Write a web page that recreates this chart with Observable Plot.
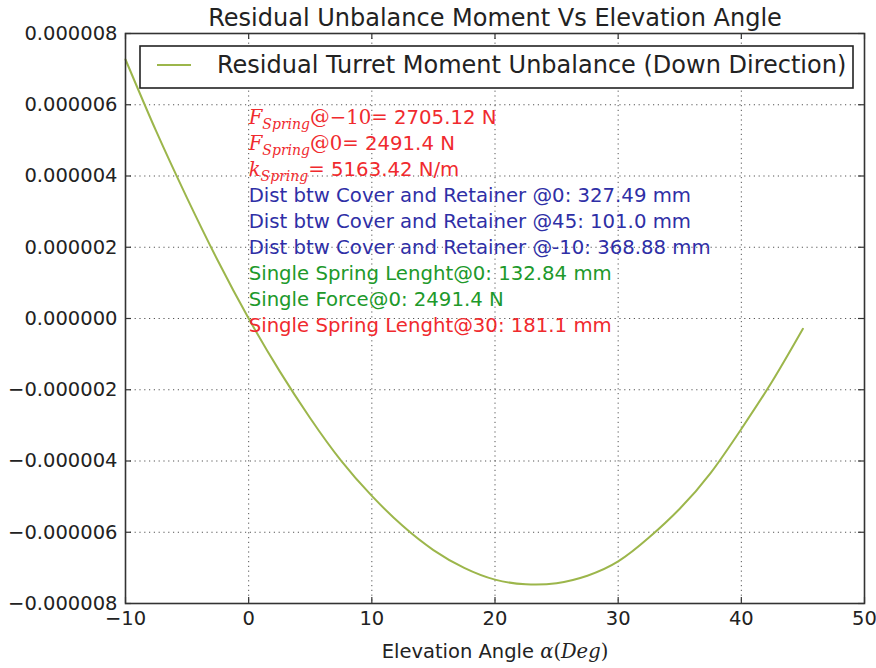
<!DOCTYPE html>
<html><head><meta charset="utf-8">
<script src="https://cdn.jsdelivr.net/npm/d3@7"></script>
<script src="https://cdn.jsdelivr.net/npm/@observablehq/plot@0.6"></script>
<style>body{margin:0;background:#fff}</style>
</head><body><div id="chart"></div>
<script>
// ---- data ----
const angles = [-10, -7.5, -5, -2.5, 0, 2.5, 5, 7.5, 10, 12.5, 15, 17.5, 20, 22.5, 25, 27.5, 30, 32.5, 35, 37.5, 40, 42.5, 45];
const moments = [7.27e-6, 5.25e-6, 3.38e-6, 1.62e-6, 0.0, -1.47e-6, -2.80e-6, -3.99e-6, -4.98e-6, -5.82e-6, -6.50e-6, -7.00e-6, -7.33e-6, -7.46e-6, -7.43e-6, -7.22e-6, -6.82e-6, -6.15e-6, -5.34e-6, -4.34e-6, -3.10e-6, -1.77e-6, -0.29e-6];
const xTicks = [-10, 0, 10, 20, 30, 40, 50];
const yTicks = [-8e-6, -6e-6, -4e-6, -2e-6, 0, 2e-6, 4e-6, 6e-6, 8e-6];
const titleText = "Residual Unbalance Moment Vs Elevation Angle";
const xLabelText = "Elevation Angle α(Deg)";
const legendLabel = "Residual Turret Moment Unbalance (Down Direction)";
const annotationTexts = [
  "F_Spring@−10 = 2705.12 N",
  "F_Spring@0 = 2491.4 N",
  "k_Spring = 5163.42 N/m",
  "Dist btw Cover and Retainer @0: 327.49 mm",
  "Dist btw Cover and Retainer @45: 101.0 mm",
  "Dist btw Cover and Retainer @-10: 368.88 mm",
  "Single Spring Lenght@0: 132.84 mm",
  "Single Force@0: 2491.4 N",
  "Single Spring Lenght@30: 181.1 mm"
];
const annotationColors = ["#f02a2e", "#f02a2e", "#f02a2e", "#2f2fa6", "#2f2fa6", "#2f2fa6", "#20992a", "#20992a", "#f02a2e"];

// ---- layout ----
const W = 876, H = 668, mL = 125, mR = 12, mT = 33, mB = 65;
const pw = W - mL - mR, ph = H - mT - mB;
const lineColor = "#9cb64b";
const tickFont = 19.5;
const annFont = 19.7;

const data = angles.map((a, i) => ({angle: a, moment: moments[i]}));
const annotations = annotationTexts.map((t, i) => ({text: t, color: annotationColors[i], i}));
const annTop = 5.64e-6, annStep = 0.73e-6;

const gridStyle = {stroke: "#444", strokeOpacity: 0.9, strokeWidth: 1, strokeDasharray: "1.2,3.6"};

const plot = Plot.plot({
  width: W, height: H,
  marginLeft: mL, marginRight: mR, marginTop: mT, marginBottom: mB,
  style: {fontFamily: "DejaVu Sans", fontSize: tickFont + "px", color: "#222", background: "#fff", overflow: "visible"},
  x: {domain: [-10, 50]},
  y: {domain: [-8e-6, 8e-6]},
  marks: [
    Plot.gridX(xTicks, gridStyle),
    Plot.gridY(yTicks, gridStyle),
    Plot.line(data, {x: "angle", y: "moment", stroke: lineColor, strokeWidth: 2, curve: "natural"}),
    Plot.text(annotations, {
      x: () => 0, y: d => annTop - d.i * annStep, text: "text", fill: "color",
      textAnchor: "start", fontSize: annFont, className: "ann"
    }),
    Plot.frame({stroke: "#333", strokeWidth: 1.6}),
    Plot.tickX(xTicks, {x: d => d, insetBottom: ph - 6, stroke: "#333", strokeWidth: 1.2}),
    Plot.tickX(xTicks, {x: d => d, insetTop: ph - 6, stroke: "#333", strokeWidth: 1.2}),
    Plot.tickY(yTicks, {y: d => d, insetRight: pw - 6, stroke: "#333", strokeWidth: 1.2}),
    Plot.tickY(yTicks, {y: d => d, insetLeft: pw - 6, stroke: "#333", strokeWidth: 1.2}),
    Plot.axisX(xTicks, {tickSize: 0, tickPadding: 8, label: null, tickFormat: d => d3.format("")(d)}),
    Plot.axisY(yTicks, {tickSize: 0, tickPadding: 8, label: null, tickFormat: d3.format(".6f")}),
    Plot.text([titleText], {frameAnchor: "top", lineAnchor: "middle", dy: -15, fontSize: 24, fill: "#222"}),
    Plot.text([xLabelText], {frameAnchor: "bottom", lineAnchor: "middle", dy: 48, fontSize: tickFont, fill: "#222", className: "xlab"})
  ]
});

document.getElementById("chart").appendChild(plot);
const svg = d3.select(plot);

// mathtext-like rendering for annotation lines
svg.selectAll("g.ann text").each(function () {
  const s = this.textContent;
  const m = s.match(/^([A-Za-z])_(\w+)(.*?)\s?= (.*)$/);
  if (!m) return;
  const el = d3.select(this);
  el.text(null);
  el.append("tspan").attr("font-family", "DejaVu Serif").attr("font-style", "italic").text(m[1]);
  el.append("tspan").attr("font-family", "DejaVu Serif").attr("font-style", "italic").attr("font-size", "14px").attr("dy", "5").text(m[2]);
  el.append("tspan").attr("font-family", "DejaVu Serif").attr("dy", "-5").text(m[3] + "=");
  el.append("tspan").text(" " + m[4]);
});

// x label with math part
svg.selectAll("g.xlab text").each(function () {
  const el = d3.select(this);
  el.text(null);
  el.append("tspan").text("Elevation Angle ");
  el.append("tspan").attr("font-family", "DejaVu Serif").attr("font-style", "italic").text("α");
  el.append("tspan").attr("font-family", "DejaVu Serif").text("(");
  el.append("tspan").attr("font-family", "DejaVu Serif").attr("font-style", "italic").text("Deg");
  el.append("tspan").attr("font-family", "DejaVu Serif").text(")");
});

// legend (axes-anchored box, like matplotlib's upper-right legend)
const lg = svg.append("g").attr("font-family", "DejaVu Sans").attr("font-size", 24).attr("text-anchor", "start");
lg.append("rect").attr("x", mL + 15).attr("y", mT + 13).attr("width", pw - 26).attr("height", 42)
  .attr("fill", "#fff").attr("stroke", "#222").attr("stroke-width", 1.6);
lg.append("line").attr("x1", mL + 32).attr("x2", mL + 66).attr("y1", mT + 32).attr("y2", mT + 32)
  .attr("stroke", lineColor).attr("stroke-width", 2);
lg.append("text").attr("x", mL + 92).attr("y", mT + 32).attr("dy", "0.35em").attr("fill", "#222").text(legendLabel);
</script>
</body></html>
